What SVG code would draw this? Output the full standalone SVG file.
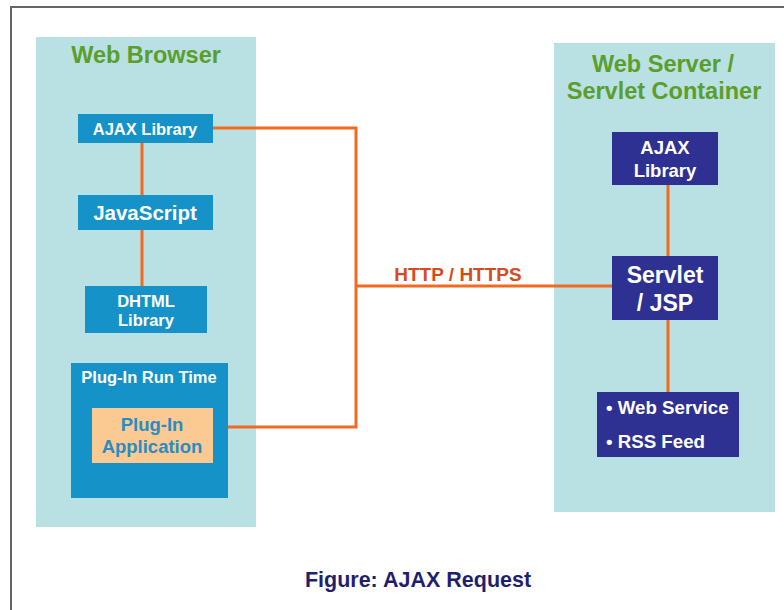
<svg xmlns="http://www.w3.org/2000/svg" width="784" height="610" viewBox="0 0 784 610">
<style>
text{font-family:"Liberation Sans",Arial,sans-serif;font-weight:bold;text-anchor:middle}
.panel{fill:#b9e0e3}
.blue{fill:#1592c8}
.navy{fill:#2e3192}
.w{fill:#ffffff}
.title{fill:#5a9e2c;font-size:23.5px}
.conn{stroke:#f26a21;stroke-width:3;fill:none}
</style>
<rect x="0" y="0" width="784" height="610" fill="#ffffff"/>
<path d="M11 610 V7 H784" fill="none" stroke="#666666" stroke-width="2"/>
<g id="web-browser">
<rect class="panel" x="36" y="37" width="220" height="490"/>
<text class="title" x="146" y="63">Web Browser</text>
</g>
<g id="web-server">
<rect class="panel" x="554" y="43" width="221" height="469"/>
<text class="title" x="663" y="72">Web Server /</text>
<text class="title" x="664" y="99">Servlet Container</text>
</g>
<g id="connectors">
<line class="conn" x1="142" y1="143" x2="142" y2="195"/>
<line class="conn" x1="142" y1="230" x2="142" y2="286"/>
<polyline class="conn" points="213,128 356,128 356,427 228,427"/>
<line class="conn" x1="356" y1="286" x2="612" y2="286"/>
<line class="conn" x1="668" y1="185" x2="668" y2="256"/>
<line class="conn" x1="668" y1="320" x2="668" y2="392"/>
<text x="458" y="281" fill="#d64b1e" font-size="19">HTTP / HTTPS</text>
</g>
<g id="ajax-library-client">
<rect class="blue" x="78" y="114" width="135" height="29"/>
<text class="w" x="145" y="135" font-size="16.5">AJAX Library</text>
</g>
<g id="javascript">
<rect class="blue" x="78" y="195" width="135" height="35"/>
<text class="w" x="145" y="220" font-size="20.5">JavaScript</text>
</g>
<g id="dhtml-library">
<rect class="blue" x="85" y="286" width="122" height="47"/>
<text class="w" x="146" y="307" font-size="16.5">DHTML</text>
<text class="w" x="146" y="326" font-size="16.5">Library</text>
</g>
<g id="plugin-runtime">
<rect class="blue" x="71" y="363" width="157" height="135"/>
<text class="w" x="149" y="383" font-size="16.5">Plug-In Run Time</text>
</g>
<g id="plugin-application">
<rect x="92" y="408" width="121" height="55" fill="#fbc992"/>
<text x="152" y="431" font-size="18.5" fill="#2a8cc2">Plug-In</text>
<text x="152" y="453" font-size="18.5" fill="#2a8cc2">Application</text>
</g>
<g id="ajax-library-server">
<rect class="navy" x="612" y="132" width="106" height="53"/>
<text class="w" x="665" y="154" font-size="18.5">AJAX</text>
<text class="w" x="665" y="177" font-size="18.5">Library</text>
</g>
<g id="servlet-jsp">
<rect class="navy" x="612" y="256" width="106" height="64"/>
<text class="w" x="665" y="283" font-size="23">Servlet</text>
<text class="w" x="665" y="311" font-size="23">/ JSP</text>
</g>
<g id="web-service">
<rect class="navy" x="597" y="392" width="142" height="65"/>
<text class="w" x="606" y="414" font-size="18.7" style="text-anchor:start">• Web Service</text>
<text class="w" x="606" y="448" font-size="18.7" style="text-anchor:start">• RSS Feed</text>
</g>
<text x="418" y="587" font-size="21.5" fill="#1f1f6e">Figure: AJAX Request</text>
</svg>
